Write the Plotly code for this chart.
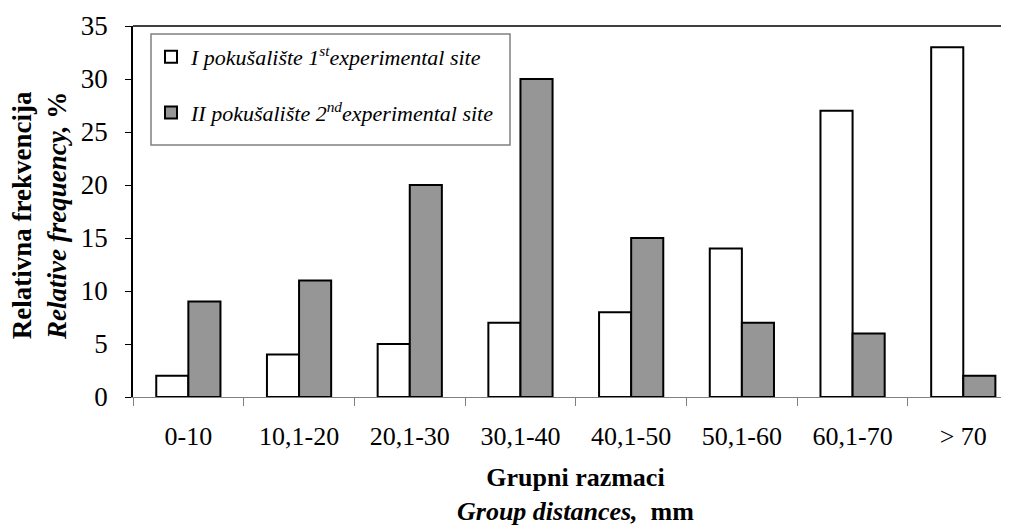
import plotly.graph_objects as go

categories = ["0-10", "10,1-20", "20,1-30", "30,1-40", "40,1-50", "50,1-60", "60,1-70", "> 70"]
site1 = [2, 4, 5, 7, 8, 14, 27, 33]
site2 = [9, 11, 20, 30, 15, 7, 6, 2]
name1 = "<i>I pokušalište 1<sup>st</sup>experimental site</i>"
name2 = "<i>II pokušalište 2<sup>nd</sup>experimental site</i>"
y_ticks = [0, 5, 10, 15, 20, 25, 30, 35]

FONT = "Liberation Serif, Times New Roman, serif"

fig = go.Figure()
fig.add_trace(go.Bar(
    x=categories, y=site1, name=name1, legendgroup="a",
    marker=dict(color="white", line=dict(color="black", width=2)),
))
fig.add_trace(go.Bar(
    x=categories, y=site2, name=name2, legendgroup="b",
    marker=dict(color="#969696", line=dict(color="black", width=2)),
))

# page has an 8px body margin; figure coords = page coords - 8
OFF = 8
W, H = 1001, 518
ml, mr, mt, mb = 133 - OFF, 0, 26 - OFF, H - (397 - OFF)
PW, PH = W - ml - mr, H - mt - mb


def px(x):
    return (x - OFF - ml) / PW


def py(y):
    return 1 - (y - OFF - mt) / PH


fig.update_layout(
    width=W, height=H,
    margin=dict(l=ml, r=mr, t=mt, b=mb, pad=0),
    paper_bgcolor="white", plot_bgcolor="white",
    font=dict(family=FONT, color="black", size=26),
    barmode="group", bargap=0.42, bargroupgap=0,
    showlegend=True,
    legend=dict(
        x=px(151), y=py(36), xanchor="left", yanchor="top",
        bgcolor="rgba(0,0,0,0)", borderwidth=0,
        font=dict(family=FONT, size=22, color="black"),
        traceorder="grouped", tracegroupgap=24,
    ),
    xaxis=dict(
        type="category", range=[-0.5, 7.413],
        showline=True, linecolor="#808080", linewidth=1,
        ticks="outside", tickson="boundaries", ticklen=8, tickcolor="#808080", tickwidth=1,
        ticklabelstandoff=16,
        tickfont=dict(family=FONT, size=26, color="black"),
        showgrid=False, zeroline=False,
    ),
    yaxis=dict(
        range=[0, 35], tickvals=y_ticks,
        showline=True, linecolor="black", linewidth=1.5,
        ticks="outside", ticklen=6, tickcolor="black", tickwidth=1,
        ticklabelstandoff=12,
        tickfont=dict(family=FONT, size=27, color="black"),
        showgrid=False, zeroline=False,
    ),
    shapes=[
        dict(type="line", xref="paper", yref="paper", x0=0, x1=1, y0=1, y1=1,
             line=dict(color="black", width=1.5)),
        dict(type="rect", xref="paper", yref="paper",
             x0=px(151), x1=px(510), y0=py(145), y1=py(34),
             line=dict(color="#808080", width=1.5), layer="above"),
    ],
    annotations=[
        dict(text="<b>Grupni razmaci</b><br><b><i>Group distances,</i>  mm</b>",
             xref="x", yref="paper", x=3.5, y=py(494),
             xanchor="center", yanchor="middle", showarrow=False,
             font=dict(family=FONT, size=26, color="black")),
        dict(text="<b>Relativna frekvencija</b><br><b><i>Relative frequency,</i> %</b>",
             xref="paper", yref="paper", x=px(39), y=py(216),
             xanchor="center", yanchor="middle", showarrow=False, textangle=-90,
             font=dict(family=FONT, size=27, color="black")),
    ],
)

fig.write_html("out.html")
